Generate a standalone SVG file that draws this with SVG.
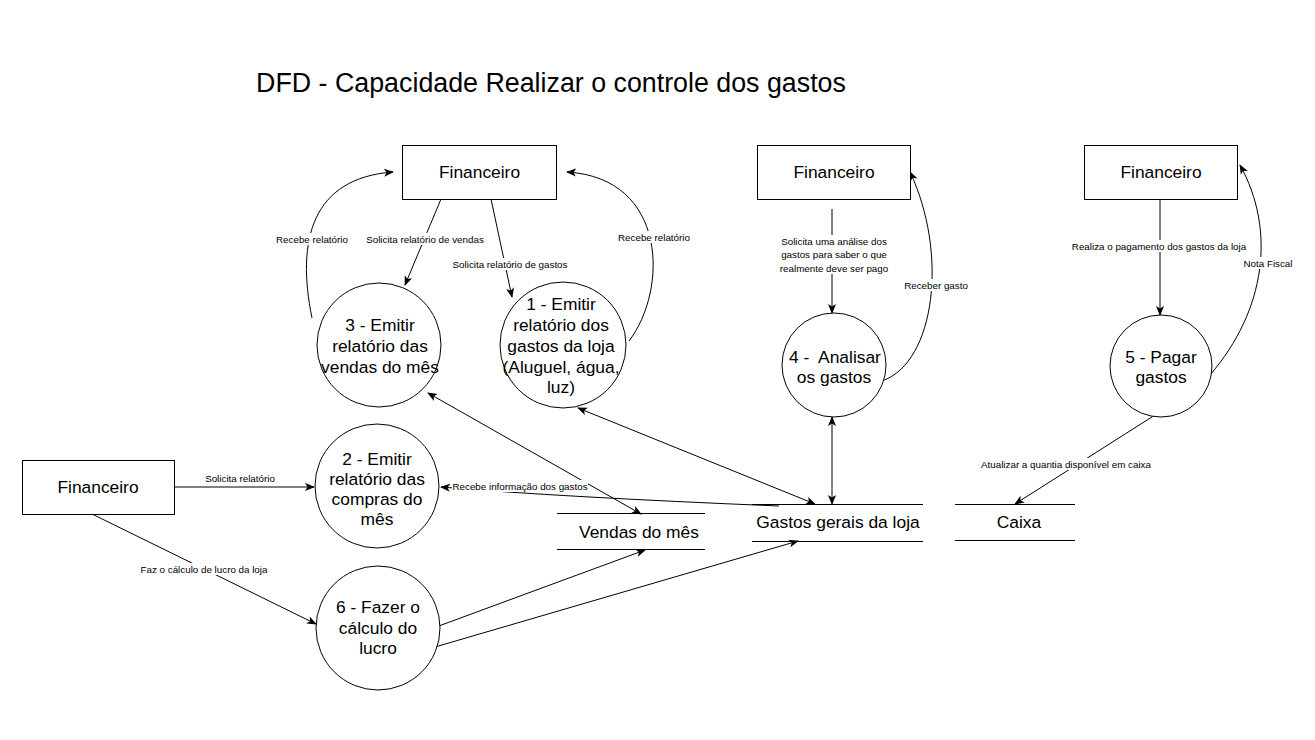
<svg xmlns="http://www.w3.org/2000/svg" width="1315" height="740" viewBox="0 0 1315 740">
<style>
.bg{fill:#fff}
.box{fill:#fff;stroke:#000;stroke-width:1}
.proc{fill:#fff;stroke:#000;stroke-width:1}
.store{stroke:#000;stroke-width:1;fill:none}
.t{font-family:"Liberation Sans",Arial,sans-serif;font-size:17.4px;fill:#000;text-anchor:middle;dominant-baseline:central}
.title{font-family:"Liberation Sans",Arial,sans-serif;font-size:26.8px;fill:#000;text-anchor:middle}
.lbl{font-family:"Liberation Sans",Arial,sans-serif;font-size:9.8px;fill:#000;text-anchor:middle;dominant-baseline:central}
.e{fill:none;stroke:#000;stroke-width:1}
.lb{fill:#fff}
.pre{white-space:pre}
</style>
<defs>
<marker id="ah" viewBox="0 0 10 10" refX="9" refY="5" markerWidth="10" markerHeight="10" markerUnits="userSpaceOnUse" orient="auto-start-reverse">
<path d="M0,1 L10,5 L0,9 L2.5,5 z" fill="#000"/>
</marker>
</defs>
<rect class="bg" x="0" y="0" width="1315" height="740"/>
<text class="title" x="551" y="92">DFD - Capacidade Realizar o controle dos gastos</text>

<g id="connectors">
<path class="e" d="M441,199 L405,285" marker-end="url(#ah)"/>
<path class="e" d="M491,199 L512,297" marker-end="url(#ah)"/>
<path class="e" d="M312,318 C296,240 312,178 393,172" marker-end="url(#ah)"/>
<path class="e" d="M629,341 C668,290 668,178 567,172" marker-end="url(#ah)"/>
<path class="e" d="M832,209 L832,313" marker-end="url(#ah)"/>
<path class="e" d="M882,381 C936,362 948,252 910,172" marker-end="url(#ah)"/>
<path class="e" d="M1160,199 L1160,315" marker-end="url(#ah)"/>
<path class="e" d="M1210,375 C1266,310 1276,230 1240,165" marker-end="url(#ah)"/>
<path class="e" d="M1155,415 L1015,504" marker-end="url(#ah)"/>
<path class="e" d="M174,487 L314,487" marker-end="url(#ah)"/>
<path class="e" d="M92,514 L316,624" marker-end="url(#ah)"/>
<path class="e" d="M779,506 Q560,497 441,487" marker-end="url(#ah)"/>
<path class="e" d="M428,393 L641,514" marker-start="url(#ah)" marker-end="url(#ah)"/>
<path class="e" d="M578,408 L815,504" marker-start="url(#ah)" marker-end="url(#ah)"/>
<path class="e" d="M832,417 L832,504" marker-start="url(#ah)" marker-end="url(#ah)"/>
<path class="e" d="M436,627 L645,550" marker-end="url(#ah)"/>
<path class="e" d="M435,647 L798,541" marker-end="url(#ah)"/>

<rect class="lb" x="366" y="233" width="118" height="12"/>
<text class="lbl" x="425" y="239">Solicita relatório de vendas</text>
<rect class="lb" x="453" y="258" width="115" height="12"/>
<text class="lbl" x="510" y="264">Solicita relatório de gastos</text>
<rect class="lb" x="276" y="233" width="72" height="12"/>
<text class="lbl" x="312" y="239">Recebe relatório</text>
<rect class="lb" x="618" y="231" width="72" height="12"/>
<text class="lbl" x="654" y="237">Recebe relatório</text>
<rect class="lb" x="781" y="235" width="106" height="39"/>
<text class="lbl" x="834" y="241">Solicita uma análise dos</text>
<text class="lbl" x="834" y="254">gastos para saber o que</text>
<text class="lbl" x="834" y="268">realmente deve ser pago</text>
<rect class="lb" x="904" y="279" width="64" height="12"/>
<text class="lbl" x="936" y="285">Receber gasto</text>
<rect class="lb" x="1071" y="240" width="176" height="12"/>
<text class="lbl" x="1159" y="246">Realiza o pagamento dos gastos da loja</text>
<rect class="lb" x="1243" y="257" width="50" height="12"/>
<text class="lbl" x="1268" y="263">Nota Fiscal</text>
<rect class="lb" x="994" y="458" width="145" height="12"/>
<text class="lbl" x="1066" y="464">Atualizar a quantia disponível em caixa</text>
<text class="lbl" x="240" y="478">Solicita relatório</text>
<rect class="lb" x="139" y="563" width="130" height="12"/>
<text class="lbl" x="204" y="569">Faz o cálculo de lucro da loja</text>
<rect class="lb" x="452" y="480" width="136" height="12"/>
<text class="lbl" x="520" y="486">Recebe informação dos gastos</text>
</g>

<g id="financeiro1">
<rect class="box" x="402.5" y="145.5" width="154" height="54"/>
<text class="t" x="479.5" y="172">Financeiro</text>
</g>
<g id="financeiro2">
<rect class="box" x="757.5" y="145.5" width="153" height="54"/>
<text class="t" x="834" y="172">Financeiro</text>
</g>
<g id="financeiro3">
<rect class="box" x="1084.5" y="145.5" width="153" height="54"/>
<text class="t" x="1161" y="172">Financeiro</text>
</g>
<g id="financeiro4">
<rect class="box" x="22.5" y="460.5" width="152" height="54"/>
<text class="t" x="98" y="487">Financeiro</text>
</g>

<g id="p3">
<circle class="proc" cx="379" cy="345" r="62"/>
<text class="t" x="380" y="325">3 - Emitir</text>
<text class="t" x="380" y="346">relatório das</text>
<text class="t" x="380" y="367">vendas do mês</text>
</g>
<g id="p1">
<circle class="proc" cx="563" cy="345" r="63"/>
<text class="t" x="561" y="304">1 - Emitir</text>
<text class="t" x="561" y="325">relatório dos</text>
<text class="t" x="561" y="346">gastos da loja</text>
<text class="t" x="561" y="367">(Aluguel, água,</text>
<text class="t" x="561" y="387">luz)</text>
</g>
<g id="p2">
<circle class="proc" cx="377" cy="486" r="62"/>
<text class="t" x="377" y="459">2 - Emitir</text>
<text class="t" x="377" y="479">relatório das</text>
<text class="t" x="377" y="499">compras do</text>
<text class="t" x="377" y="519">mês</text>
</g>
<g id="p6">
<circle class="proc" cx="378" cy="628" r="62"/>
<text class="t" x="378" y="607">6 - Fazer o</text>
<text class="t" x="378" y="628">cálculo do</text>
<text class="t" x="378" y="648">lucro</text>
</g>
<g id="p4">
<circle class="proc" cx="834" cy="365" r="52"/>
<text class="t pre" x="835" y="357">4 -  Analisar</text>
<text class="t" x="834" y="377">os gastos</text>
</g>
<g id="p5">
<circle class="proc" cx="1161" cy="366" r="51"/>
<text class="t" x="1161" y="357">5 - Pagar</text>
<text class="t" x="1161" y="377">gastos</text>
</g>

<g id="store-vendas">
<line class="store" x1="557" y1="513.5" x2="705" y2="513.5"/>
<line class="store" x1="557" y1="549.5" x2="705" y2="549.5"/>
<text class="t" x="639" y="532">Vendas do mês</text>
</g>
<g id="store-gastos">
<line class="store" x1="752" y1="504.5" x2="923" y2="504.5"/>
<line class="store" x1="752" y1="541.5" x2="923" y2="541.5"/>
<text class="t" x="838" y="522">Gastos gerais da loja</text>
</g>
<g id="store-caixa">
<line class="store" x1="955" y1="504.5" x2="1075" y2="504.5"/>
<line class="store" x1="955" y1="540.5" x2="1075" y2="540.5"/>
<text class="t" x="1019" y="522">Caixa</text>
</g>
</svg>
